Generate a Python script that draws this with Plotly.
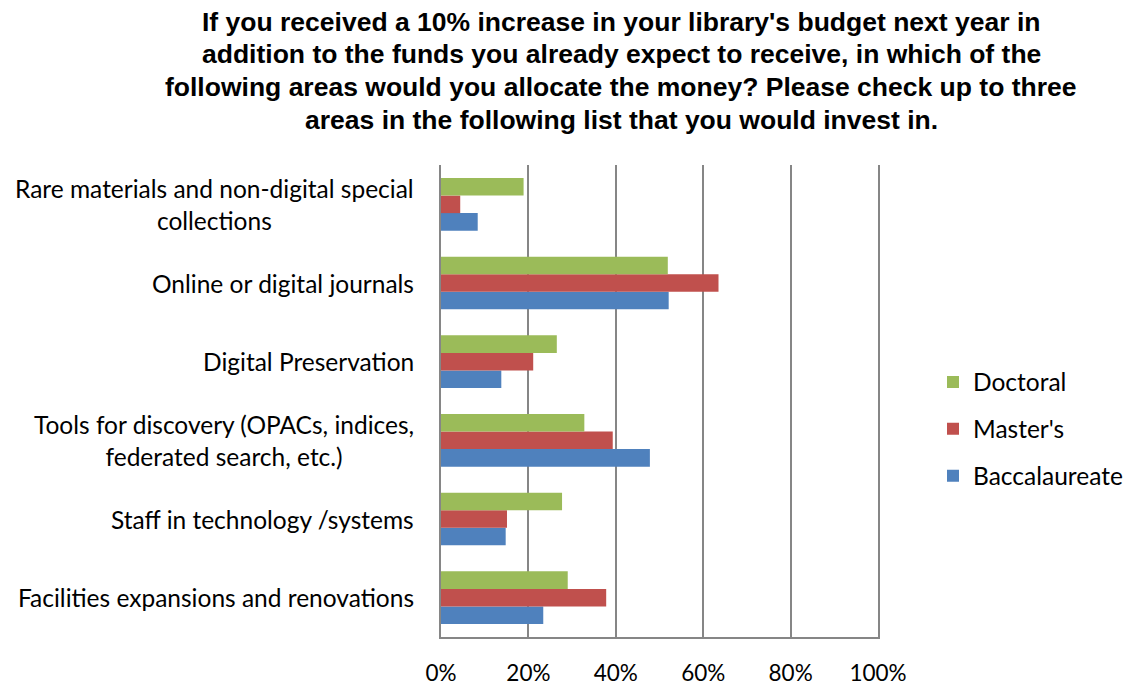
import plotly.graph_objects as go

# Survey areas, listed bottom to top as they appear on the axis
categories = [
    "Facilities expansions and renovations",
    "Staff in technology /systems",
    "Tools for discovery (OPACs, indices,<br>federated search, etc.)",
    "Digital Preservation",
    "Online or digital journals",
    "Rare materials and non-digital special<br>collections",
]

baccalaureate = [23.4, 14.8, 47.8, 13.8, 52.1, 8.4]
masters = [37.8, 15.1, 39.3, 21.1, 63.5, 4.4]
doctoral = [29.0, 27.7, 32.8, 26.5, 51.9, 18.9]

x_ticks = [0, 20, 40, 60, 80, 100]
x_tick_labels = ["0%", "20%", "40%", "60%", "80%", "100%"]

title_lines = [
    "If you received a 10% increase in your library's budget next year in",
    "addition to the funds you already expect to receive, in which of the",
    "following areas would you allocate the money? Please check up to three",
    "areas in the following list that you would invest in.",
]

# (name, values, colour, legend rank)
series = [
    ("Baccalaureate", baccalaureate, "#4F81BD", 3),
    ("Master's", masters, "#C0504D", 2),
    ("Doctoral", doctoral, "#9BBB59", 1),
]

W, H = 1128, 689
M_L, M_R, M_T, M_B = 441, 250, 165, 52
plot_w = W - M_L - M_R
plot_h = H - M_T - M_B

fig = go.Figure()
for name, vals, color, rank in series:
    fig.add_trace(go.Bar(
        y=categories, x=vals, name=name, orientation="h",
        marker=dict(color=color, line=dict(width=0)),
        legendgroup=name, legendrank=rank,
    ))

label_font = dict(family="Lato, sans-serif", size=24.5, color="#000000")
tick_font = dict(family="Lato, sans-serif", size=22.5, color="#000000")

annotations = []
# Category labels, centred line by line
for cat in categories:
    annotations.append(dict(
        x=0, xref="paper", xshift=-25, y=cat, yref="y",
        text=cat, showarrow=False, xanchor="right", yanchor="middle",
        align="center", font=label_font,
    ))

# Four-line bold heading
title_y_px = [22, 54, 87, 120]
for line, py in zip(title_lines, title_y_px):
    annotations.append(dict(
        x=(621 - M_L) / plot_w, xref="paper",
        y=(H - M_B - py) / plot_h, yref="paper",
        text=f"<b>{line}</b>", showarrow=False,
        xanchor="center", yanchor="middle",
        font=dict(family="Arial", size=26.5, color="#000000"),
    ))

fig.update_layout(
    width=W, height=H,
    margin=dict(l=M_L, r=M_R, t=M_T, b=M_B, autoexpand=False),
    paper_bgcolor="white", plot_bgcolor="white",
    barmode="group", bargap=0.33, bargroupgap=0,
    showlegend=True,
    legend=dict(
        x=(933 - M_L) / plot_w, xanchor="left",
        y=(H - M_B - 429) / plot_h, yanchor="middle",
        traceorder="grouped", tracegroupgap=12,
        font=label_font, bgcolor="rgba(0,0,0,0)",
        itemwidth=30,
    ),
    annotations=annotations,
    xaxis=dict(
        range=[0, 100], tickvals=x_ticks, ticktext=x_tick_labels,
        showgrid=True, gridcolor="#868686", gridwidth=2,
        showline=True, linecolor="#868686", linewidth=2,
        zeroline=False, ticks="", tickfont=tick_font,
        ticklabelstandoff=15, automargin=False, fixedrange=True,
    ),
    yaxis=dict(
        showticklabels=False, showgrid=False, zeroline=False,
        showline=True, mirror=True, linecolor="#868686", linewidth=2,
        ticks="", automargin=False, fixedrange=True,
    ),
)

fig.write_html("out.html")
